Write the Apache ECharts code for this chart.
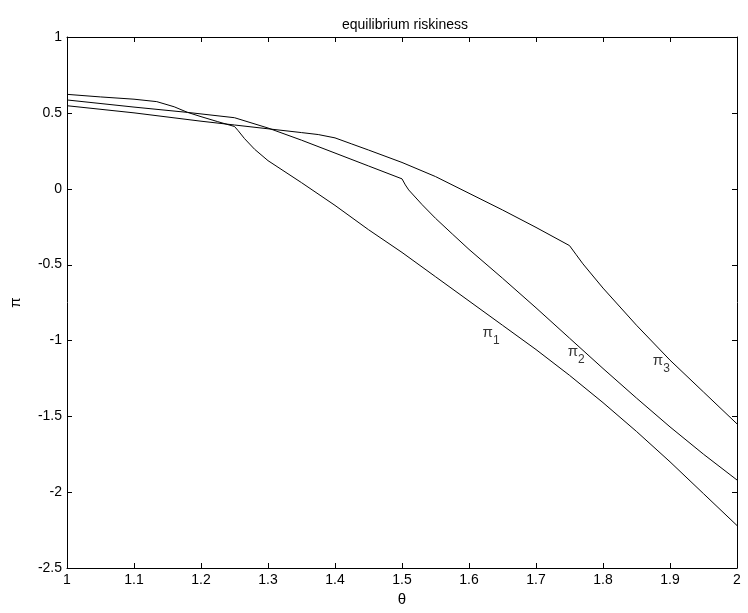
<!DOCTYPE html>
<html>
<head>
<meta charset="utf-8">
<script src="https://cdn.jsdelivr.net/npm/echarts@6/dist/echarts.min.js"></script>
<style>
html,body{margin:0;padding:0;background:#fff;}
#main{width:748px;height:613px;}
</style>
</head>
<body>
<div id="main"></div>
<script>
// ---- data ----
const titleText = 'equilibrium riskiness';
const xName = 'θ';
const yName = 'π';

const theta1 = [1.00,1.05,1.10,1.134,1.16,1.18,1.20,1.225,1.25,1.255,1.265,1.28,1.30,1.35,1.40,1.45,1.50,1.55,1.60,1.65,1.70,1.75,1.80,1.85,1.90,1.95,2.00];
const pi1    = [0.622,0.605,0.59,0.574,0.54,0.503,0.475,0.442,0.41,0.385,0.33,0.26,0.185,0.04,-0.11,-0.27,-0.42,-0.58,-0.74,-0.90,-1.06,-1.23,-1.41,-1.60,-1.80,-2.01,-2.22];

const theta2 = [1.00,1.10,1.18,1.25,1.30,1.35,1.40,1.45,1.50,1.505,1.51,1.53,1.55,1.575,1.60,1.65,1.70,1.75,1.80,1.85,1.90,1.95,2.00];
const pi2    = [0.585,0.538,0.503,0.468,0.40,0.32,0.235,0.15,0.065,0.025,-0.008,-0.105,-0.195,-0.298,-0.40,-0.59,-0.785,-0.985,-1.185,-1.38,-1.57,-1.75,-1.92];

const theta3 = [1.00,1.10,1.20,1.25,1.30,1.35,1.375,1.40,1.425,1.45,1.50,1.55,1.60,1.65,1.70,1.75,1.76,1.77,1.80,1.85,1.90,1.95,2.00];
const pi3    = [0.547,0.50,0.445,0.42,0.395,0.37,0.357,0.335,0.295,0.255,0.173,0.08,-0.03,-0.14,-0.255,-0.375,-0.435,-0.495,-0.655,-0.90,-1.13,-1.34,-1.55];

const labelX   = [1.633, 1.760, 1.887];
const labelY   = [-0.971, -1.096, -1.156];
const labelSub = ['1', '2', '3'];

// tick positions (match the axis tick labels)
const xTicks = [1.0,1.1,1.2,1.3,1.4,1.5,1.6,1.7,1.8,1.9,2.0];
const yTicks = [-2.5,-2.0,-1.5,-1.0,-0.5,0.0,0.5,1.0];

const xMin = 1, xMax = 2, xStep = 0.1;
const yMin = -2.5, yMax = 1, yStep = 0.5;

function pairs(xs, ys){ return xs.map((x,i)=>[x, ys[i]]); }

const FONT = 'Liberation Sans, Arial, Helvetica, sans-serif';
const TICK_LEN = 5;

const lineOn  = () => ({show: true, onZero: false, lineStyle: {color: '#000', width: 1}});

function xAx(pos, extra){
  return Object.assign({type: 'value', position: pos, min: xMin, max: xMax, interval: xStep,
    splitLine: {show: false}, axisLabel: {show: false}, axisTick: {show: false}, axisLine: lineOn()}, extra);
}
function yAx(pos, extra){
  return Object.assign({type: 'value', position: pos, min: yMin, max: yMax, interval: yStep,
    splitLine: {show: false}, axisLabel: {show: false}, axisTick: {show: false}, axisLine: lineOn()}, extra);
}

const chart = echarts.init(document.getElementById('main'), null, {renderer: 'canvas'});
const mkLine = (xs, ys) => ({
  type: 'line', xAxisIndex: 0, yAxisIndex: 0, data: pairs(xs, ys),
  showSymbol: false, symbol: 'none', lineStyle: {color: '#000', width: 1}, itemStyle: {color:'#000'},
  animation: false, silent: true
});

const tickStyle = {stroke: '#000', lineWidth: 1};
function snap(v){ return Math.round(v) + 0.5; }

chart.setOption({
  animation: false,
  backgroundColor: '#fff',
  title: {
    text: titleText, left: 400, top: 13, textAlign: 'center',
    textStyle: {fontFamily: FONT, fontSize: 14, fontWeight: 'normal', color: '#000'}
  },
  grid: {left: 63, right: 11, top: 37, bottom: 45, containLabel: false},
  xAxis: [
    xAx('bottom', {
      name: xName, nameLocation: 'middle', nameGap: 23,
      nameTextStyle: {fontFamily: FONT, fontSize: 15, color: '#000'},
      axisLabel: {show: true, color: '#000', fontFamily: FONT, fontSize: 14, margin: 5}
    }),
    xAx('top', {})
  ],
  yAxis: [
    yAx('left', {
      name: yName, nameLocation: 'middle', nameGap: 44, nameRotate: 90,
      nameTextStyle: {fontFamily: FONT, fontSize: 15, color: '#000'},
      axisLabel: {show: true, color: '#000', fontFamily: FONT, fontSize: 14, margin: 5}
    }),
    yAx('right', {})
  ],
  series: [
    mkLine(theta1, pi1),
    mkLine(theta2, pi2),
    mkLine(theta3, pi3),
    {
      type: 'custom', xAxisIndex: 0, yAxisIndex: 0, silent: true, clip: false,
      data: xTicks.map(v => [v, yMin]),
      renderItem: function(params, api){
        const v = api.value(0);
        const b = api.coord([v, yMin]);
        const t = api.coord([v, yMax]);
        const x = snap(b[0]);
        return {type: 'group', children: [
          {type: 'line', shape: {x1: x, y1: b[1], x2: x, y2: b[1] - TICK_LEN}, style: tickStyle},
          {type: 'line', shape: {x1: x, y1: t[1], x2: x, y2: t[1] + TICK_LEN}, style: tickStyle}
        ]};
      }
    },
    {
      type: 'custom', xAxisIndex: 0, yAxisIndex: 0, silent: true, clip: false,
      data: yTicks.map(v => [xMin, v]),
      renderItem: function(params, api){
        const v = api.value(1);
        const l = api.coord([xMin, v]);
        const r = api.coord([xMax, v]);
        const y = snap(l[1]);
        return {type: 'group', children: [
          {type: 'line', shape: {x1: l[0], y1: y, x2: l[0] + TICK_LEN, y2: y}, style: tickStyle},
          {type: 'line', shape: {x1: r[0], y1: y, x2: r[0] - TICK_LEN, y2: y}, style: tickStyle}
        ]};
      }
    },
    {
      type: 'scatter', xAxisIndex: 0, yAxisIndex: 0, symbolSize: 0, silent: true,
      data: labelX.map((x,i)=>({value:[x, labelY[i]], sub: labelSub[i]})),
      label: {
        show: true, position: 'inside', color: '#000',
        formatter: p => '{p|π}{s|' + p.data.sub + '}',
        rich: {
          p: {fontFamily: FONT, fontSize: 15, color: '#000', lineHeight: 16, verticalAlign: 'top'},
          s: {fontFamily: FONT, fontSize: 12, color: '#000', lineHeight: 22, verticalAlign: 'bottom'}
        }
      }
    }
  ]
});
</script>
</body>
</html>
